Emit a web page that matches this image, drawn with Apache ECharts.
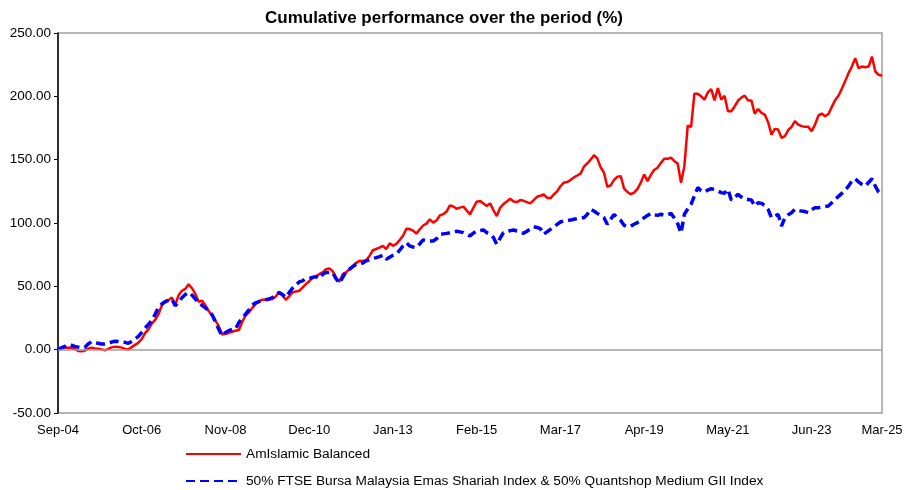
<!DOCTYPE html>
<html>
<head>
<meta charset="utf-8">
<title>Cumulative performance</title>
<script src="https://cdn.jsdelivr.net/npm/echarts@6/dist/echarts.min.js"></script>
<style>
  html, body { margin: 0; padding: 0; background: #fff; }
  #chart { width: 913px; height: 490px; }
</style>
</head>
<body>
<div id="chart"></div>
<script>
// monthly points, Sep-04 .. Mar-25 (247 months)
var startYear = 2004, startMonth = 8, monthCount = 247;
var shownTicks = ['Sep-04', 'Oct-06', 'Nov-08', 'Dec-10', 'Jan-13', 'Feb-15',
                  'Mar-17', 'Apr-19', 'May-21', 'Jun-23', 'Mar-25'];
var seriesNames = ['AmIslamic Balanced',
  '50% FTSE Bursa Malaysia Emas Shariah Index & 50% Quantshop Medium GII Index'];

var fundValues = [
  0, 0.8, 1.8, 1.5, 1.8, 0.5, -1.0, -1.2, -0.8, 0.8,
  1.6, 1.0, 0.8, 0.2, -0.5, 0.6, 1.8, 2.4, 2.2, 1.6,
  0.6, 0.2, 2.0, 3.8, 5.5, 8.4, 13.0, 16.0, 20.5, 23.5,
  28.0, 35.0, 38.5, 39.0, 41.2, 35.2, 43.0, 46.5, 48.0, 51.7,
  48.5, 44.0, 37.8, 38.6, 35.0, 30.5, 27.0, 23.0, 18.5, 12.0,
  12.5, 13.2, 14.2, 15.0, 15.5, 22.0, 27.0, 29.4, 33.0, 36.0,
  38.0, 39.5, 39.4, 39.6, 40.0, 42.0, 45.2, 43.0, 39.4, 42.0,
  45.2, 46.0, 46.5, 49.0, 51.7, 54.0, 56.9, 58.0, 59.6, 61.0,
  63.5, 64.1, 62.0, 57.0, 53.6, 59.6, 61.0, 63.5, 66.0, 68.5,
  70.1, 70.0, 70.6, 74.0, 78.5, 79.5, 80.5, 81.9, 79.3, 84.0,
  82.0, 83.5, 86.5, 90.0, 95.5, 95.2, 94.0, 91.6, 95.0, 98.0,
  99.5, 102.9, 100.3, 102.0, 106.0, 107.0, 109.0, 113.9, 113.0, 111.3,
  112.1, 112.9, 110.0, 106.8, 112.0, 116.8, 117.3, 115.5, 113.4, 115.5,
  110.0, 105.5, 112.0, 115.0, 117.0, 119.1, 117.0, 116.5, 118.1, 117.5,
  116.5, 115.5, 118.0, 120.7, 121.5, 122.5, 120.0, 119.5, 122.5, 125.0,
  129.0, 131.8, 132.3, 134.0, 136.0, 137.5, 139.0, 144.4, 147.0, 150.0,
  153.5, 151.0, 144.0, 139.7, 128.6, 129.7, 134.0, 136.5, 137.0, 127.1,
  124.5, 122.7, 124.0, 127.0, 132.0, 138.4, 133.1, 138.0, 142.0, 143.6,
  147.5, 150.7, 150.7, 151.5, 149.0, 147.0, 131.8, 144.9, 176.9, 175.8,
  202.1, 202.1, 200.0, 197.4, 203.1, 205.7, 196.8, 206.5, 197.4, 200.5,
  188.2, 188.2, 192.0, 196.5, 199.0, 200.5, 196.8, 196.8, 186.3, 190.0,
  187.0, 185.6, 179.6, 169.8, 174.3, 173.8, 167.2, 168.5, 173.3, 175.9,
  180.4, 177.7, 176.5, 175.9, 175.9, 172.5, 177.7, 184.8, 186.4, 184.3,
  186.0, 191.5, 197.0, 200.5, 206.0, 212.0, 218.3, 223.5, 230.1, 222.2,
  223.5, 223.0, 223.5, 231.4, 219.6, 217.0, 216.2
];

var benchValues = [
  0, 1.5, 2.5, 4.0, 3.5, 2.6, 2.0, 1.6, 1.8, 4.5,
  6.3, 5.8, 5.0, 4.5, 4.5, 5.0, 6.0, 6.6, 6.5, 6.0,
  5.8, 5.0, 6.5, 8.4, 10.5, 13.6, 17.0, 20.0, 23.0, 28.0,
  33.4, 36.0, 37.8, 39.0, 39.9, 34.7, 37.5, 41.0, 43.5, 45.2,
  43.0, 40.0, 36.5, 35.0, 33.0, 31.0, 27.5, 22.0, 16.0, 11.0,
  13.5, 15.0, 16.0, 16.3, 21.5, 25.0, 28.1, 31.5, 35.2, 37.0,
  38.0, 38.6, 39.4, 40.0, 41.2, 43.0, 45.2, 43.5, 41.2, 45.0,
  48.5, 51.0, 53.5, 54.3, 56.0, 56.2, 57.0, 57.7, 56.2, 59.5,
  60.9, 61.0, 60.9, 56.0, 52.5, 57.0, 61.5, 63.5, 65.5, 67.4,
  67.5, 68.5, 70.1, 71.0, 72.0, 72.7, 73.5, 74.6, 71.4, 73.0,
  74.5, 75.4, 78.5, 81.9, 84.5, 81.9, 81.0, 80.6, 83.5, 86.6,
  86.0, 85.8, 85.8, 87.5, 91.0, 91.4, 91.8, 92.3, 92.9, 93.5,
  93.0, 92.4, 91.0, 89.8, 92.0, 93.7, 94.0, 94.5, 92.4, 91.0,
  88.5, 83.2, 88.0, 92.4, 93.0, 94.0, 94.5, 93.7, 93.0, 91.9,
  93.5, 95.5, 97.1, 96.5, 95.5, 91.1, 93.0, 95.0, 97.0, 98.9,
  100.8, 101.6, 101.8, 102.3, 102.9, 103.5, 104.0, 104.2, 106.8, 110.8,
  109.5, 107.6, 106.0, 104.2, 99.0, 103.0, 106.8, 104.2, 102.0, 98.2,
  97.1, 97.5, 99.0, 100.3, 102.0, 104.2, 106.0, 107.6, 106.5, 106.0,
  106.9, 106.0, 106.5, 107.6, 104.0, 99.5, 92.0, 106.9, 111.0, 114.8,
  121.4, 127.9, 125.5, 124.5, 126.0, 127.1, 126.5, 125.3, 124.0, 123.5,
  126.6, 118.2, 120.0, 122.7, 120.5, 118.8, 118.5, 118.2, 113.4, 116.0,
  115.5, 113.9, 110.8, 104.2, 105.5, 106.8, 97.6, 104.2, 106.5, 108.1,
  110.8, 110.0, 109.4, 109.0, 108.1, 110.5, 112.1, 112.1, 112.5, 113.0,
  113.4, 116.0, 118.6, 121.0, 123.4, 126.0, 129.1, 133.1, 134.9, 132.5,
  130.5, 129.1, 132.0, 134.9, 129.1, 124.4, 123.5
];

var monNames = ['Jan', 'Feb', 'Mar', 'Apr', 'May', 'Jun',
                'Jul', 'Aug', 'Sep', 'Oct', 'Nov', 'Dec'];
var months = [];
for (var i = 0; i < monthCount; i++) {
  var k = startMonth + i;
  var yy = (startYear + Math.floor(k / 12)) % 100;
  months.push(monNames[k % 12] + '-' + (yy < 10 ? '0' : '') + yy);
}

var FONT = "'Liberation Sans', Arial, sans-serif";
var chart = echarts.init(document.getElementById('chart'));

// one legend per row so the two entries stack
function legendRow(name, top) {
  return {
    left: 185,
    top: top,
    padding: 0,
    itemWidth: 55,
    itemHeight: 12,
    itemStyle: { opacity: 0 },
    textStyle: { fontFamily: FONT, fontSize: 13.7, color: '#000' },
    data: [name]
  };
}

var option = {
  backgroundColor: '#fff',
  animation: false,
  title: {
    text: 'Cumulative performance over the period (%)',
    left: 439,
    textAlign: 'center',
    top: 5,
    textStyle: { fontFamily: FONT, fontSize: 17, fontWeight: 'bold', color: '#000' }
  },
  legend: [legendRow(seriesNames[0], 447), legendRow(seriesNames[1], 474)],
  grid: {
    left: 58,
    right: 31,
    top: 33,
    bottom: 77,
    show: true,
    borderColor: '#a0a0a0',
    borderWidth: 1.5
  },
  xAxis: {
    type: 'category',
    data: months,
    boundaryGap: false,
    axisLine: { show: false },
    axisTick: { show: false },
    splitLine: { show: false },
    axisLabel: {
      interval: 0,
      margin: 11,
      fontFamily: FONT,
      fontSize: 13,
      color: '#000',
      formatter: function (v) { return shownTicks.indexOf(v) >= 0 ? v : ''; }
    }
  },
  yAxis: {
    type: 'value',
    min: -50,
    max: 250,
    interval: 50,
    axisLine: { show: true, lineStyle: { color: '#000', width: 1.5 } },
    axisTick: { show: true, length: 4, lineStyle: { color: '#000' } },
    splitLine: { show: false },
    axisLabel: {
      margin: 7,
      fontFamily: FONT,
      fontSize: 13.5,
      color: '#000',
      formatter: function (v) { return v.toFixed(2); }
    }
  },
  series: [
    {
      name: seriesNames[0],
      type: 'line',
      data: fundValues,
      symbol: 'none',
      z: 3,
      lineStyle: { color: '#ff0000', width: 2.5 },
      itemStyle: { color: '#ff0000' },
      markLine: {
        silent: true,
        symbol: 'none',
        label: { show: false },
        lineStyle: { color: '#a0a0a0', width: 1.5, type: 'solid' },
        data: [{ yAxis: 0 }]
      }
    },
    {
      name: seriesNames[1],
      type: 'line',
      data: benchValues,
      symbol: 'none',
      z: 4,
      lineStyle: { color: '#0000ff', width: 3.5, type: [9, 5] },
      itemStyle: { color: '#0000ff' }
    }
  ]
};

chart.setOption(option);
</script>
</body>
</html>
